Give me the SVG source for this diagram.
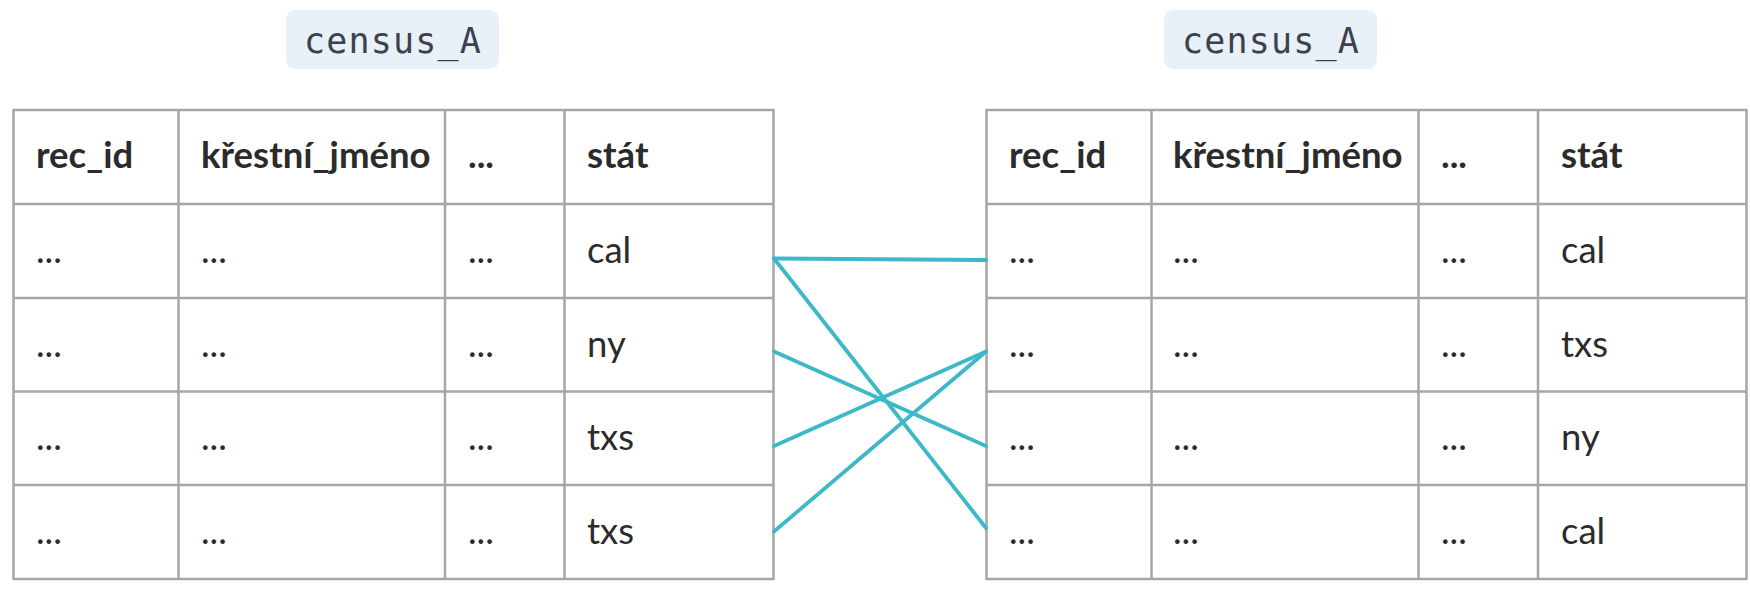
<svg xmlns="http://www.w3.org/2000/svg" width="1750" height="592" viewBox="0 0 1750 592">
<defs>
<style>
.bg{fill:#ffffff}
.pill{fill:#e8f0f8}
.pilltxt{font-family:"DejaVu Sans Mono",monospace;font-size:35px;letter-spacing:1.2px;fill:#3c414c;text-anchor:middle}
.grid{fill:none;stroke:#a6a6a6;stroke-width:2.5}
.hd{font-family:Lato,"Liberation Sans",sans-serif;font-size:36.5px;font-weight:bold;fill:#2b2b2b}
.td{font-family:Lato,"Liberation Sans",sans-serif;font-size:36.5px;fill:#2b2b2b}
.conn{fill:none;stroke:#3db8c8;stroke-width:3.8;stroke-linecap:round}
</style>
</defs>
<rect class="bg" x="0" y="0" width="1750" height="592"/>

<g id="label-left">
<rect class="pill" x="286" y="10" width="213" height="59" rx="9"/>
<text class="pilltxt" x="393" y="53">census_A</text>
</g>
<g id="label-right">
<rect class="pill" x="1164" y="10" width="213" height="59" rx="9"/>
<text class="pilltxt" x="1271" y="53">census_A</text>
</g>

<g id="table-left">
<rect class="grid" x="13.5" y="110" width="760" height="469"/>
<path class="grid" d="M178.5 110V579M445 110V579M564.5 110V579M13.5 204H773.5M13.5 298H773.5M13.5 391.5H773.5M13.5 485H773.5"/>
<text class="hd" x="36" y="168">rec_id</text>
<text class="hd" x="201" y="168">křestní_jméno</text>
<text class="hd" x="468" y="168">...</text>
<text class="hd" x="587" y="168">stát</text>
<g class="td">
<text x="36" y="263">...</text><text x="201" y="263">...</text><text x="468" y="263">...</text><text x="587" y="263">cal</text>
<text x="36" y="357">...</text><text x="201" y="357">...</text><text x="468" y="357">...</text><text x="587" y="357">ny</text>
<text x="36" y="450">...</text><text x="201" y="450">...</text><text x="468" y="450">...</text><text x="587" y="450">txs</text>
<text x="36" y="544">...</text><text x="201" y="544">...</text><text x="468" y="544">...</text><text x="587" y="544">txs</text>
</g>
</g>

<g id="table-right">
<rect class="grid" x="986.5" y="110" width="760" height="469"/>
<path class="grid" d="M1151.5 110V579M1418.5 110V579M1538 110V579M986.5 204H1746.5M986.5 298H1746.5M986.5 391.5H1746.5M986.5 485H1746.5"/>
<text class="hd" x="1009" y="168">rec_id</text>
<text class="hd" x="1173" y="168">křestní_jméno</text>
<text class="hd" x="1441" y="168">...</text>
<text class="hd" x="1561" y="168">stát</text>
<g class="td">
<text x="1009" y="263">...</text><text x="1173" y="263">...</text><text x="1441" y="263">...</text><text x="1561" y="263">cal</text>
<text x="1009" y="357">...</text><text x="1173" y="357">...</text><text x="1441" y="357">...</text><text x="1561" y="357">txs</text>
<text x="1009" y="450">...</text><text x="1173" y="450">...</text><text x="1441" y="450">...</text><text x="1561" y="450">ny</text>
<text x="1009" y="544">...</text><text x="1173" y="544">...</text><text x="1441" y="544">...</text><text x="1561" y="544">cal</text>
</g>
</g>

<g id="connectors">
<line class="conn" x1="774" y1="258.5" x2="986" y2="260"/>
<line class="conn" x1="774" y1="258.5" x2="986" y2="528"/>
<line class="conn" x1="774" y1="351.5" x2="986" y2="446"/>
<line class="conn" x1="774" y1="446" x2="986" y2="351.5"/>
<line class="conn" x1="774" y1="531.5" x2="986" y2="351.5"/>
</g>
</svg>
